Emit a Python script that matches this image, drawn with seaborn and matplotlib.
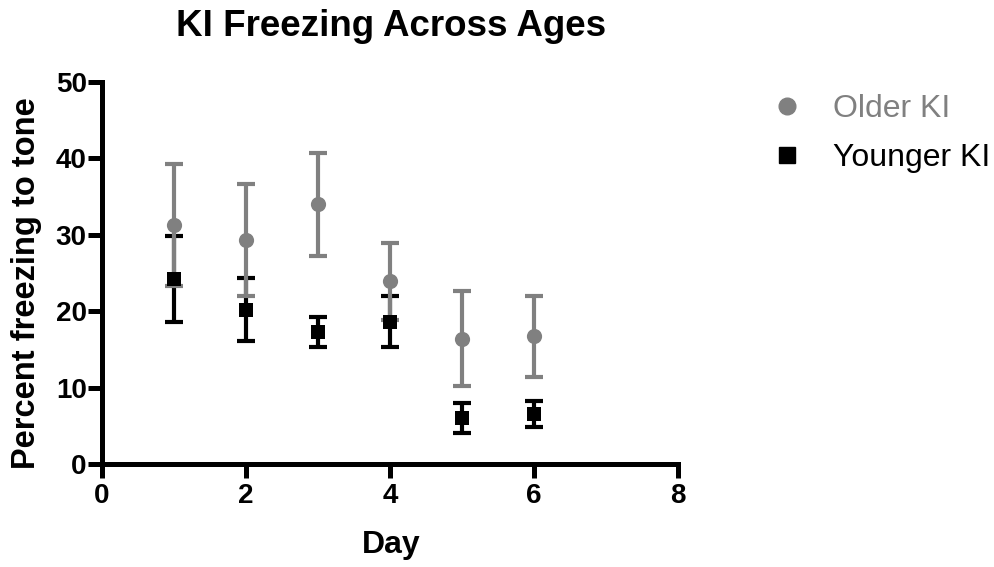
import matplotlib
matplotlib.use("Agg")
import matplotlib.pyplot as plt
import seaborn as sns
import pandas as pd
from matplotlib.lines import Line2D

days = [1, 2, 3, 4, 5, 6]
older_mean = [31.3, 29.3, 34.0, 23.9, 16.4, 16.7]
older_err = [8.0, 7.35, 6.75, 5.0, 6.2, 5.3]
younger_mean = [24.2, 20.2, 17.3, 18.6, 6.0, 6.6]
younger_err = [5.6, 4.15, 2.0, 3.35, 1.95, 1.7]
series_names = ["Older KI", "Younger KI"]
xticks = [0, 2, 4, 6, 8]
yticks = [0, 10, 20, 30, 40, 50]

GRAY = "#808080"
BLACK = "#000000"

sns.set_style("white")
plt.rcParams['font.family'] = ['Liberation Sans', 'DejaVu Sans']
plt.rcParams['text.color'] = BLACK
plt.rcParams['axes.labelcolor'] = BLACK
plt.rcParams['xtick.color'] = BLACK
plt.rcParams['ytick.color'] = BLACK

df = pd.DataFrame({
    "Day": days * 2,
    "Value": older_mean + younger_mean,
    "Group": [series_names[0]] * len(days) + [series_names[1]] * len(days),
})

fig = plt.figure(figsize=(9.94, 5.67), dpi=100)
ax = fig.add_axes([102 / 994, 1 - 464 / 567, 576 / 994, 382 / 567])

# error bars
ax.errorbar(days, younger_mean, yerr=younger_err, fmt="none", ecolor=BLACK,
            elinewidth=3, capsize=6.2, capthick=3, clip_on=False, zorder=2)
ax.errorbar(days, older_mean, yerr=older_err, fmt="none", ecolor=GRAY,
            elinewidth=3, capsize=6.2, capthick=3, clip_on=False, zorder=3)

sns.scatterplot(data=df[df.Group == series_names[1]], x="Day", y="Value", ax=ax,
                marker="s", s=110, color=BLACK, edgecolor=BLACK, linewidth=0,
                legend=False, zorder=4, clip_on=False)
sns.scatterplot(data=df[df.Group == series_names[0]], x="Day", y="Value", ax=ax,
                marker="o", s=120, color=GRAY, edgecolor=GRAY, linewidth=0,
                legend=False, zorder=5, clip_on=False)

ax.set_xlim(0, 8)
ax.set_ylim(0, 50)
ax.set_xticks(xticks)
ax.set_yticks(yticks)
for s in ["top", "right"]:
    ax.spines[s].set_visible(False)
for s in ["left", "bottom"]:
    ax.spines[s].set_linewidth(3.6)
    ax.spines[s].set_color(BLACK)
ax.tick_params(axis="both", direction="out", length=10, width=3.6, color=BLACK,
               labelcolor=BLACK, labelsize=20, bottom=True, left=True)
ax.tick_params(axis="x", pad=4)
ax.tick_params(axis="y", pad=1)
for lab in ax.get_xticklabels() + ax.get_yticklabels():
    lab.set_fontweight("bold")

ax.set_xlabel("")
ax.set_ylabel("")
fig.text(391 / 994, 1 - 545 / 567, "Day", fontsize=23, fontweight="bold",
         ha="center", va="center", color=BLACK)
fig.text(27 / 994, 1 - 283 / 567, "Percent freezing to tone", fontsize=23.5,
         fontweight="bold", ha="center", va="center", rotation=90, color=BLACK)
fig.text(391 / 994, 1 - 27 / 567, "KI Freezing Across Ages", fontsize=26.5,
         fontweight="bold", ha="center", va="center", color=BLACK)

handles = [
    Line2D([], [], marker="o", linestyle="none", markersize=12, color=GRAY),
    Line2D([], [], marker="s", linestyle="none", markersize=11, color=BLACK),
]
leg = fig.legend(handles, series_names, loc="upper left",
                 bbox_to_anchor=(768 / 994, 1 - 94 / 567), frameon=False,
                 fontsize=23, handletextpad=0.85, labelspacing=0.6,
                 handlelength=1.2, borderpad=0, borderaxespad=0)
leg.get_texts()[0].set_color(GRAY)
leg.get_texts()[1].set_color(BLACK)

fig.savefig("out.png", dpi=100)
